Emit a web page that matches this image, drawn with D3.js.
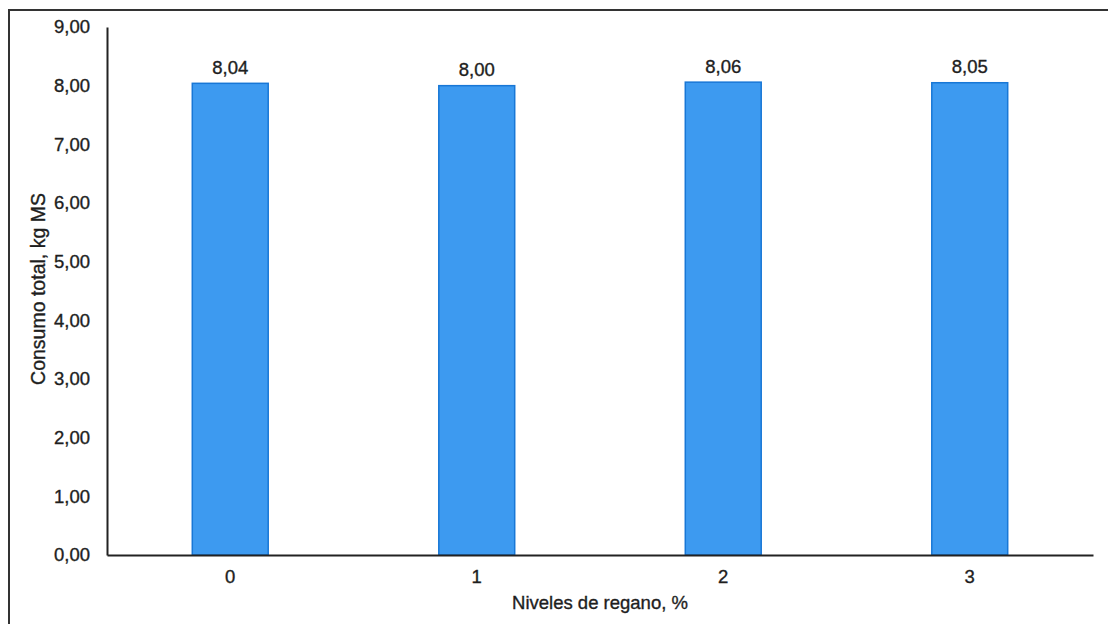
<!DOCTYPE html>
<html><head><meta charset="utf-8">
<script src="https://cdn.jsdelivr.net/npm/d3@7"></script>
<style>body{margin:0;background:#fff;}svg{display:block;font-family:"Liberation Sans",Arial,sans-serif;}
text{fill:#1e1e1e;stroke:#1e1e1e;stroke-width:0.35px;}</style>
</head><body>
<svg id="c" width="1108" height="624"></svg>
<script>
const categories = ["0", "1", "2", "3"];
const values = [8.04, 8.00, 8.06, 8.05];
const valueLabels = ["8,04", "8,00", "8,06", "8,05"];
const yTicks = [0, 1, 2, 3, 4, 5, 6, 7, 8, 9];
const yTitle = "Consumo total, kg MS";
const xTitle = "Niveles de regano, %";

const FS = 18.5;
const svg = d3.select("#c");
// outer frame
svg.append("path").attr("d","M9,624 V10 H1108").attr("fill","none").attr("stroke","#333").attr("stroke-width",2);

const x0 = 107, x1 = 1093, yb = 555, yt = 27;
const x = d3.scaleBand().domain(categories).range([x0, x1]).paddingInner(0.692).paddingOuter(0.346);
const y = d3.scaleLinear().domain([0, 9]).range([yb, yt]);

const fmt = d => d3.format(".2f")(d).replace(".", ",");

svg.selectAll("rect.bar").data(values).enter().append("rect")
  .attr("class","bar")
  .attr("x",(d,i)=>x(categories[i]))
  .attr("y",d=>y(d))
  .attr("width",x.bandwidth())
  .attr("height",d=>yb-y(d))
  .attr("fill","#3d9af0").attr("stroke","#1877d6").attr("stroke-width",1.5);

svg.selectAll("text.val").data(values).enter().append("text")
  .attr("x",(d,i)=>x(categories[i])+x.bandwidth()/2)
  .attr("y",d=>y(d)-9.5)
  .attr("text-anchor","middle").attr("font-size",FS)
  .text((d,i)=>valueLabels[i]);

// y axis
const ya = svg.append("g").attr("transform",`translate(${x0},0)`)
  .call(d3.axisLeft(y).tickValues(yTicks).tickSize(0).tickPadding(17).tickFormat(fmt));
ya.select(".domain").attr("stroke","#222").attr("stroke-width",2);
ya.selectAll("text").attr("font-size",FS).attr("font-family","Liberation Sans, Arial, sans-serif");

// x axis
const xa = svg.append("g").attr("transform",`translate(0,${yb})`)
  .call(d3.axisBottom(x).tickSize(0).tickPadding(14.5));
xa.select(".domain").attr("stroke","#222").attr("stroke-width",2);
xa.selectAll("text").attr("font-size",FS).attr("font-family","Liberation Sans, Arial, sans-serif");

svg.append("text").attr("x",600).attr("y",609).attr("text-anchor","middle").attr("font-size",FS).text(xTitle);
svg.append("text").attr("transform","translate(44.5,289) rotate(-90)").attr("text-anchor","middle").attr("font-size",19.5).text(yTitle);
</script>
</body></html>
